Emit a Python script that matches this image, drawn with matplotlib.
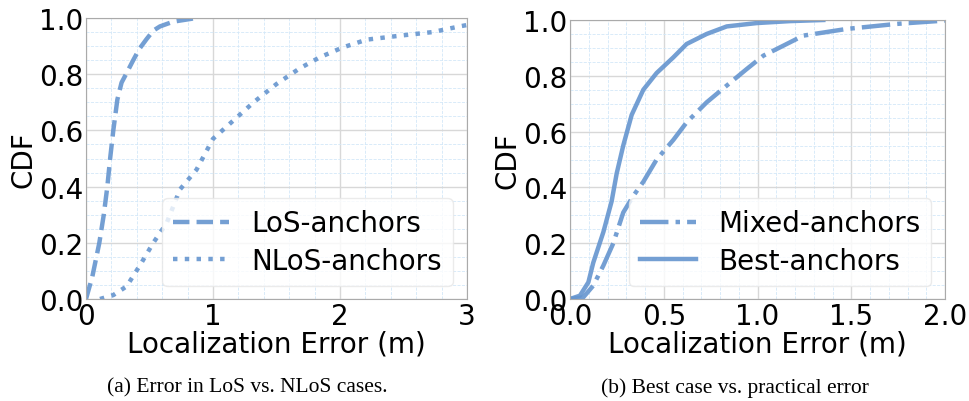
# CDF of localization error, two panels
import numpy as np
import matplotlib
matplotlib.use("Agg")
import matplotlib.pyplot as plt
from matplotlib.ticker import MultipleLocator, FormatStrFormatter

# panel (a) curves
los_x = [0.0, 0.05, 0.105, 0.14, 0.168, 0.19, 0.215, 0.247, 0.28, 0.315, 0.372, 0.42, 0.477,
         0.53, 0.582, 0.687, 0.87]
los_y = [0.0, 0.08, 0.2, 0.3, 0.4, 0.5, 0.6, 0.71, 0.77, 0.8, 0.85, 0.89, 0.925,
         0.955, 0.97, 0.987, 1.0]
nlos_x = [0.11, 0.215, 0.32, 0.425, 0.53, 0.635, 0.74, 0.87, 1.0, 1.16, 1.32, 1.5, 1.68,
          1.84, 2.02, 2.21, 2.47, 2.73, 2.94, 3.0]
nlos_y = [0.0, 0.014, 0.045, 0.12, 0.2, 0.27, 0.39, 0.46, 0.57, 0.635, 0.7, 0.765, 0.82,
          0.86, 0.895, 0.923, 0.937, 0.95, 0.97, 0.975]

# panel (b) curves
mixed_x = [0.0, 0.071, 0.124, 0.178, 0.231, 0.284, 0.338, 0.391, 0.462, 0.551, 0.622,
           0.729, 0.836, 0.942, 1.031, 1.138, 1.244, 1.476, 1.742, 2.0]
mixed_y = [0.0, 0.006, 0.048, 0.12, 0.2, 0.31, 0.37, 0.42, 0.5, 0.57, 0.633,
           0.705, 0.765, 0.824, 0.872, 0.908, 0.944, 0.968, 0.986, 0.998]
best_x = [0.0, 0.053, 0.098, 0.124, 0.178, 0.222, 0.249, 0.284, 0.329, 0.391, 0.462,
          0.551, 0.622, 0.729, 0.836, 0.996, 1.173, 1.351]
best_y = [0.0, 0.012, 0.06, 0.13, 0.24, 0.35, 0.45, 0.55, 0.66, 0.75, 0.81,
          0.866, 0.914, 0.95, 0.977, 0.989, 0.996, 1.0]

color = "#6595cf"
fs = 20

fig = plt.figure(figsize=(9.69, 4.02), dpi=100)
axL = fig.add_axes([86/969, 102/402, 381/969, 281/402])
axR = fig.add_axes([570/969, 102/402, 375/969, 279/402])


def style(ax, xmax, xmaj, xmin):
    ax.set_xlim(0, xmax)
    ax.set_ylim(0, 1)
    ax.xaxis.set_major_locator(MultipleLocator(xmaj))
    ax.xaxis.set_minor_locator(MultipleLocator(xmin))
    ax.yaxis.set_major_locator(MultipleLocator(0.2))
    ax.yaxis.set_minor_locator(MultipleLocator(0.05))
    ax.yaxis.set_major_formatter(FormatStrFormatter("%.1f"))
    ax.grid(which="major", color="#d8d8d8", lw=1)
    ax.grid(which="minor", color="#d3e8f8", lw=0.6, ls="--")
    ax.set_axisbelow(True)
    for s in ax.spines.values():
        s.set_color("#aaaaaa")
    ax.tick_params(which="both", length=0, labelsize=20, pad=2)
    ax.set_xlabel("Localization Error (m)", fontsize=fs, labelpad=0)
    ax.set_ylabel("CDF", fontsize=fs, labelpad=1)
    ax.legend(loc="lower right", fontsize=fs, handlelength=2.0, framealpha=0.8,
              edgecolor="#e6e6e6", borderpad=0.4, labelspacing=0.35,
              borderaxespad=0, bbox_to_anchor=(0.963, 0.046))


axL.plot(los_x, los_y, ls="--", lw=3.2, color=color, alpha=0.9, label="LoS-anchors")
axL.plot(nlos_x, nlos_y, ls=":", lw=3.2, color=color, alpha=0.9, label="NLoS-anchors")
style(axL, 3, 1, 0.2)

axR.plot(mixed_x, mixed_y, ls="-.", lw=3.2, color=color, alpha=0.9, label="Mixed-anchors")
axR.plot(best_x, best_y, ls="-", lw=3.2, color=color, alpha=0.9, label="Best-anchors")
style(axR, 2, 0.5, 0.1)
axR.xaxis.set_major_formatter(FormatStrFormatter("%.1f"))

fig.text(247/969, 1 - 388/402, "(a) Error in LoS vs. NLoS cases.", ha="center", va="center",
         fontsize=15.5, family="Liberation Serif")
fig.text(735/969, 1 - 388/402, "(b) Best case vs. practical error", ha="center", va="center",
         fontsize=15.5, family="Liberation Serif")

fig.savefig("out.png", dpi=100)
